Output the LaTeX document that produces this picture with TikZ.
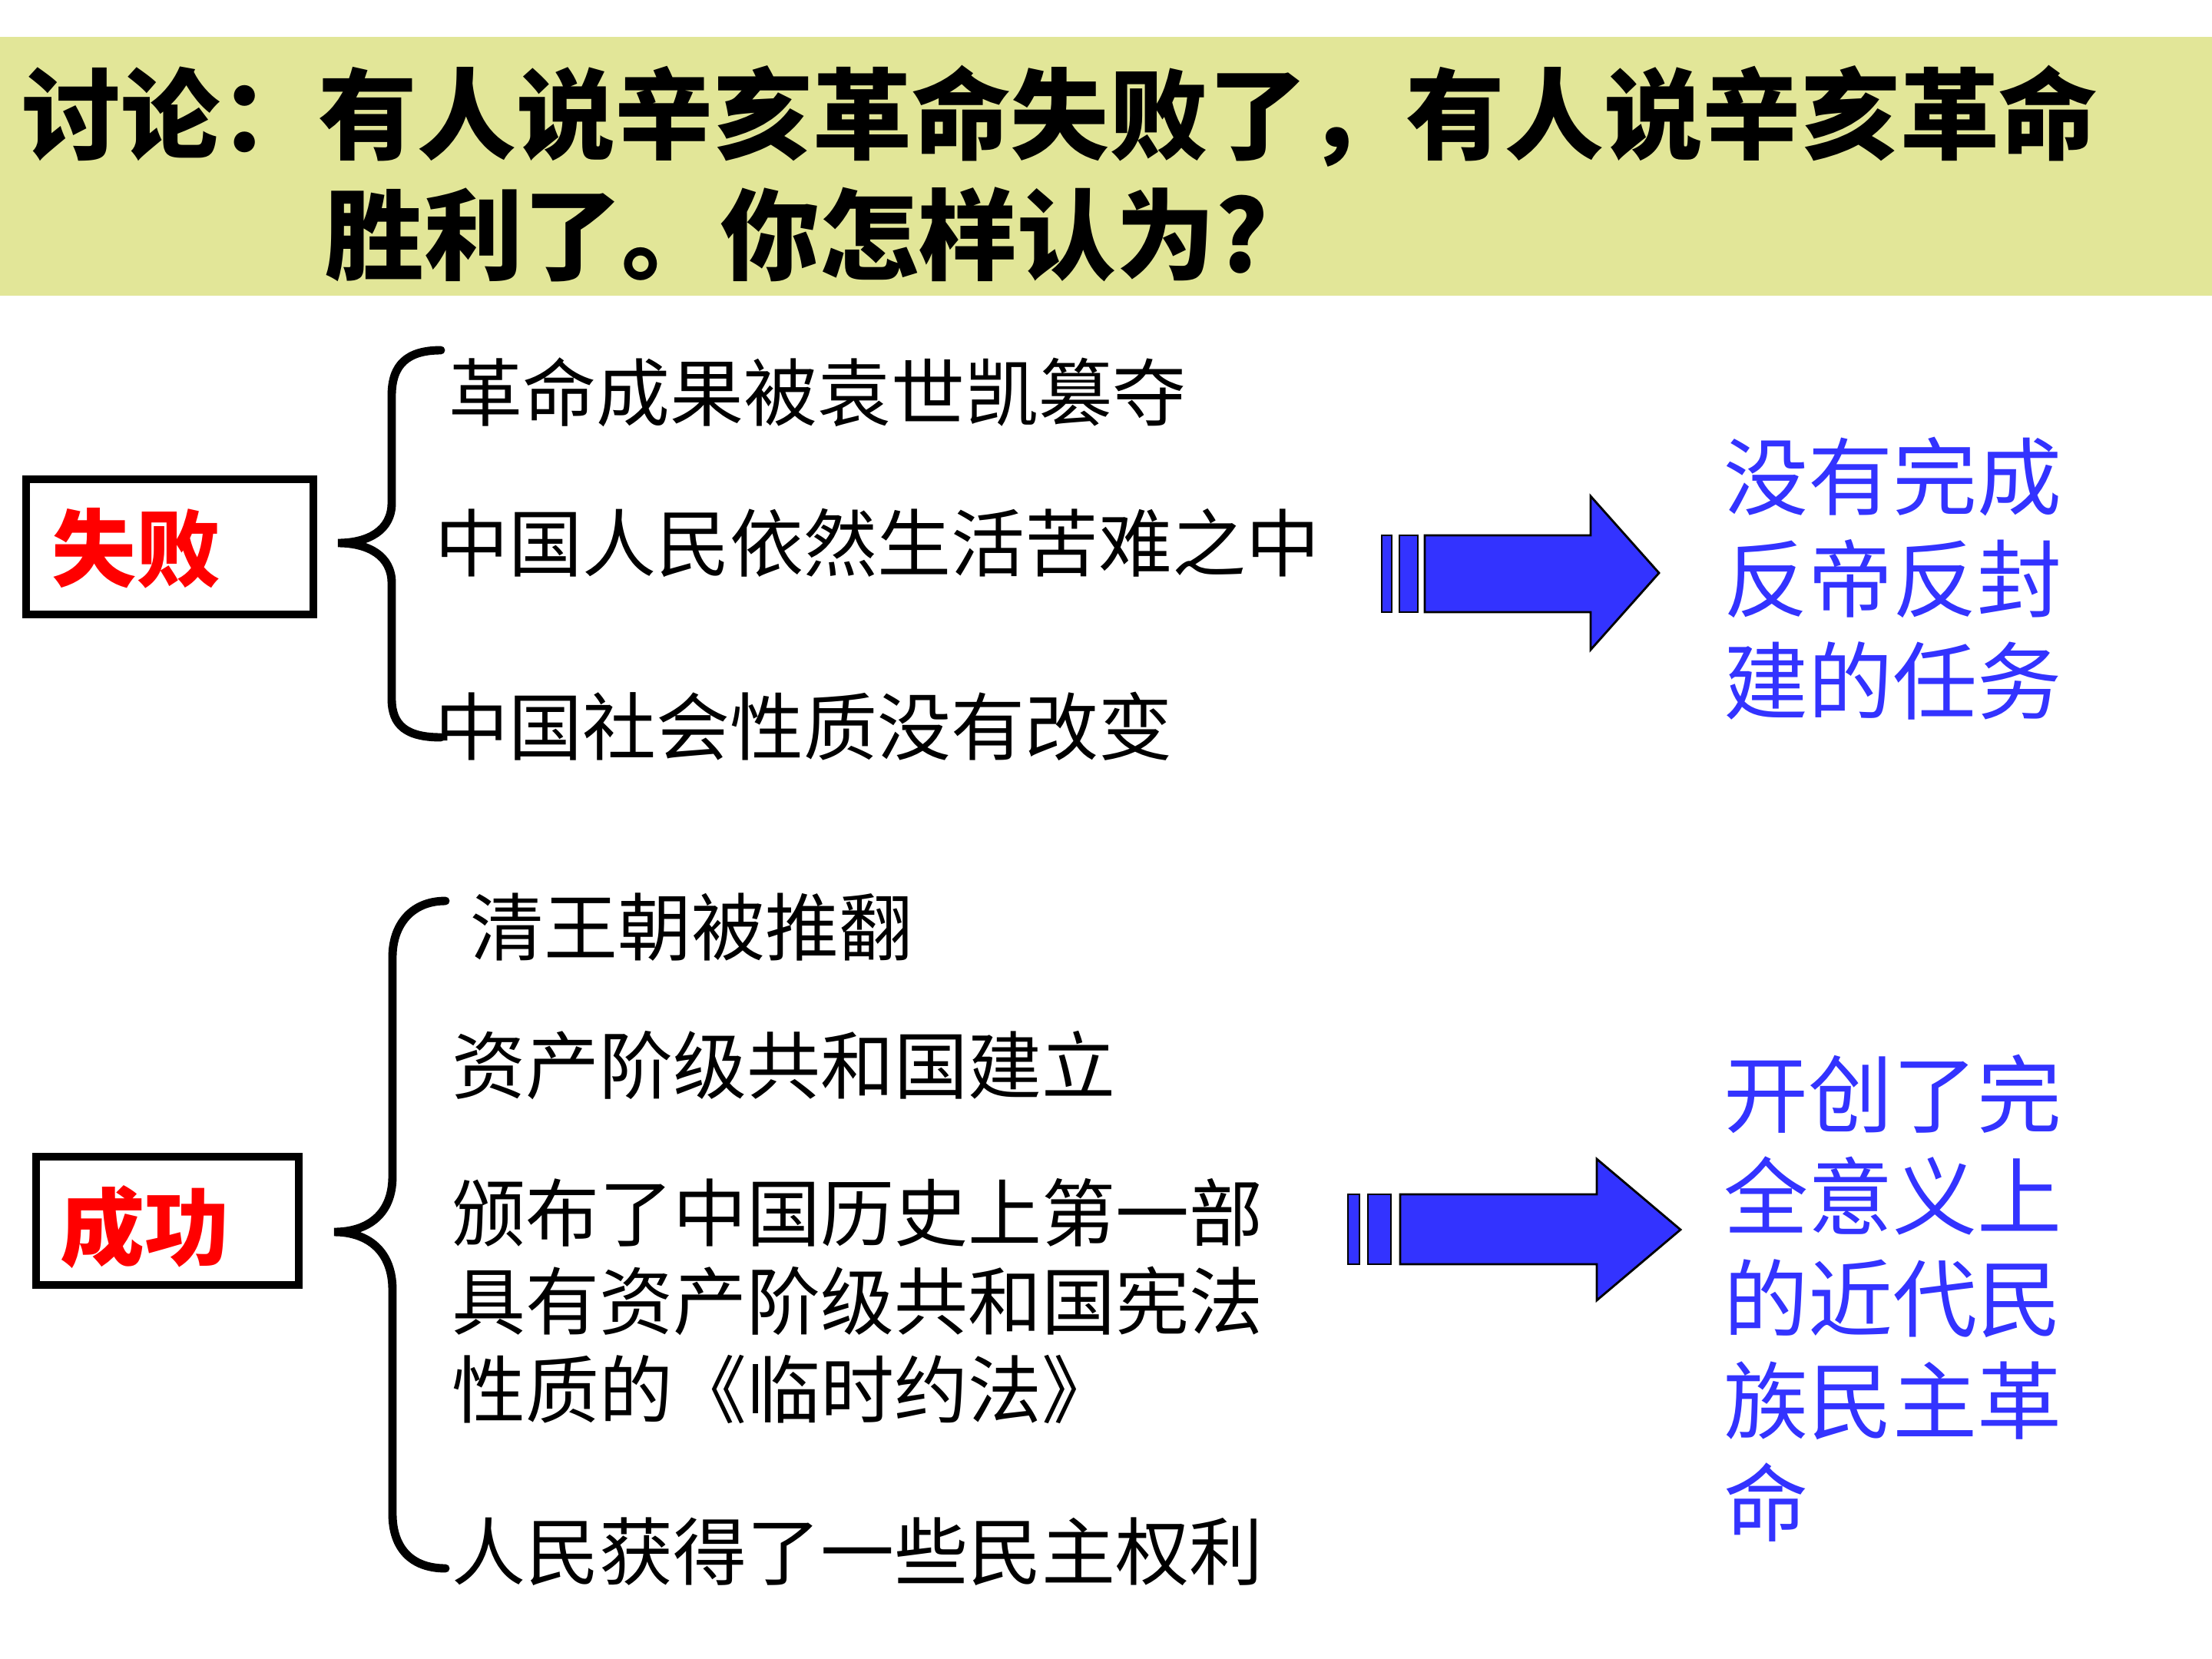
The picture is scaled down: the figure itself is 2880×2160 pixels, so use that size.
\documentclass[tikz,border=0pt]{standalone}
\usepackage{fontspec}
\newfontfamily\cjk{Noto Sans CJK SC}
\usetikzlibrary{positioning}
\definecolor{titlebg}{RGB}{226,230,152}
\definecolor{arrowblue}{RGB}{51,51,255}

\begin{document}
\begin{tikzpicture}[
    x=0.01cm, y=-0.01cm,
    headline/.style  = {anchor=west, inner sep=0pt, font=\cjk\bfseries\fontsize{36.6}{44}\selectfont},
    listitem/.style  = {anchor=west, inner sep=0pt, align=left, font=\cjk\fontsize{27.3}{32.7}\selectfont},
    result/.style    = {anchor=west, inner sep=0pt, align=left, text=arrowblue, font=\cjk\fontsize{31.3}{37.8}\selectfont},
    verdict/.style   = {anchor=west, inner sep=0pt, text=red, font=\cjk\bfseries\fontsize{31.3}{37}\selectfont},
    tagbox/.style    = {draw, line width=2.8pt},
    bracepath/.style = {draw, line width=3.1pt, line cap=round},
    bigarrow/.style  = {draw, fill=arrowblue, line width=0.8pt},
  ]

	\useasboundingbox (0,0) rectangle (2880,2160);

	% Titelband
	\fill[titlebg] (0,48) rectangle (2880,385);
	\node (head1) at (28,151) [headline] {讨论：有人说辛亥革命失败了，有人说辛亥革命};
	\node (head2) at (423,305) [headline] {胜利了。你怎样认为?};

	% --- Misserfolg ---
	\draw[tagbox] (34,624) rectangle (408,800);
	\node (failtag) at (67,714) [verdict] {失败};

	\coordinate (b1top) at (574,456);
	\coordinate (b1tip) at (440,707);
	\coordinate (b1bot) at (574,960);
	\draw[bracepath] (b1top) .. controls (530,456) and (510,475) .. (510,515) -- (510,655)
		.. controls (510,690) and (480,707) .. (b1tip)
		.. controls (480,707) and (510,724) .. (510,759) -- (510,910)
		.. controls (510,945) and (530,960) .. (b1bot);

	\node (fail1) at (584,511) [listitem] {革命成果被袁世凯篡夺};
	\node (fail2) at (566,707) [listitem] {中国人民依然生活苦难之中};
	\node (fail3) at (566,946) [listitem] {中国社会性质没有改变};

	% Pfeil 1
	\draw[bigarrow] (1799,697) rectangle (1812,797);
	\draw[bigarrow] (1822,697) rectangle (1846,797);
	\draw[bigarrow] (1855,697) -- (2071,697) -- (2071,646) -- (2160,746)
		-- (2071,846) -- (2071,797) -- (1855,797) -- cycle;

	\node (failres) at (2244,753) [result] {没有完成\\反帝反封\\建的任务};

	% --- Erfolg ---
	\draw[tagbox] (47,1506) rectangle (389,1673);
	\node (wintag) at (78,1598) [verdict] {成功};

	\coordinate (b2top) at (580,1173);
	\coordinate (b2tip) at (435,1604);
	\coordinate (b2bot) at (580,2042);
	\draw[bracepath] (b2top) .. controls (535,1173) and (511,1205) .. (511,1246) -- (511,1532)
		.. controls (511,1580) and (480,1604) .. (b2tip)
		.. controls (480,1604) and (511,1630) .. (511,1679) -- (511,1971)
		.. controls (511,2015) and (535,2042) .. (b2bot);

	\node (win1) at (612,1207) [listitem] {清王朝被推翻};
	\node (win2) at (588,1387) [listitem] {资产阶级共和国建立};
	\node (win3) at (588,1694) [listitem] {颁布了中国历史上第一部\\具有资产阶级共和国宪法\\性质的《临时约法》};
	\node (win4) at (588,2020) [listitem] {人民获得了一些民主权利};

	% Pfeil 2
	\draw[bigarrow] (1755,1555) rectangle (1770,1646);
	\draw[bigarrow] (1781,1555) rectangle (1811,1646);
	\draw[bigarrow] (1823,1555) -- (2079,1555) -- (2079,1509) -- (2188,1601)
		-- (2079,1693) -- (2079,1646) -- (1823,1646) -- cycle;

	\node (winres) at (2244,1690) [result] {开创了完\\全意义上\\的近代民\\族民主革\\命};

\end{tikzpicture}
\end{document}
